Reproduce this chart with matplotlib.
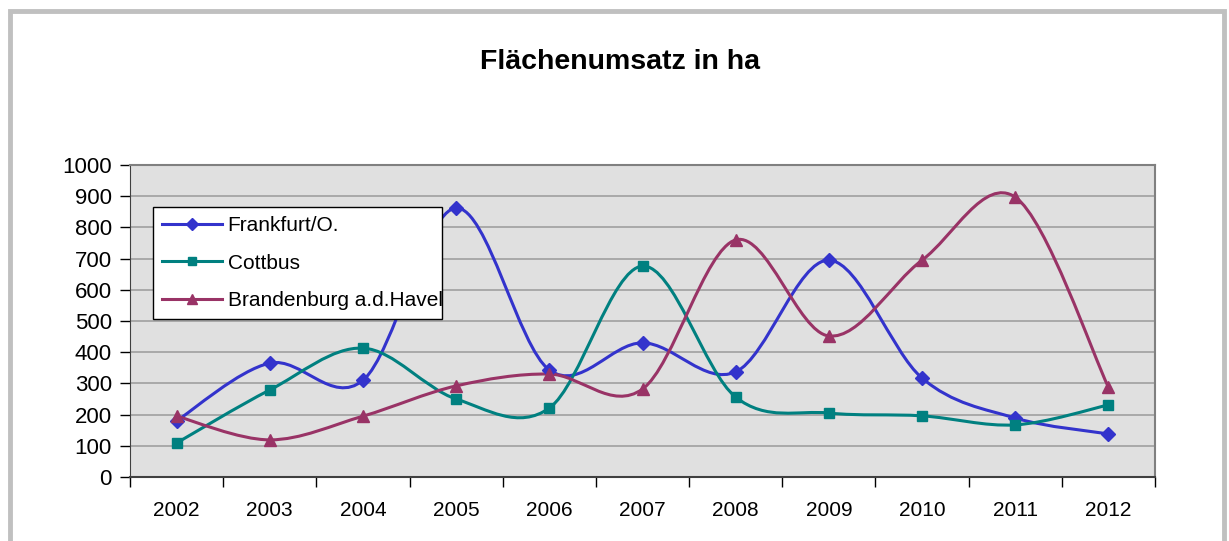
import matplotlib.pyplot as plt
import numpy as np
from matplotlib.lines import Line2D
from matplotlib.patches import PathPatch, Rectangle
from matplotlib.path import Path
from matplotlib.ticker import FixedLocator, NullFormatter

plt.rcParams["font.family"] = ["Liberation Sans", "DejaVu Sans"]

years = ["2002", "2003", "2004", "2005", "2006", "2007", "2008", "2009", "2010", "2011", "2012"]
frankfurt = [180, 365, 310, 862, 343, 430, 337, 695, 317, 189, 138]
cottbus = [109, 279, 413, 250, 221, 676, 256, 205, 196, 167, 231]
brandenburg = [195, 119, 195, 292, 330, 282, 760, 452, 695, 897, 288]

series = [
    ("Frankfurt/O.", frankfurt, "#3333CC", "D", 7),
    ("Cottbus", cottbus, "#008080", "s", 7),
    ("Brandenburg a.d.Havel", brandenburg, "#993366", "^", 8),
]


def smooth_path(xs, ys):
    # Excel-style smoothed line: cubic Bezier segments through the points
    pts = np.column_stack([xs, ys]).astype(float)
    ext = np.vstack([pts[0], pts, pts[-1]])
    verts = [pts[0]]
    codes = [Path.MOVETO]
    for i in range(len(pts) - 1):
        p0, p1, p2, p3 = ext[i], ext[i + 1], ext[i + 2], ext[i + 3]
        verts += [p1 + (p2 - p0) / 6, p2 - (p3 - p1) / 6, p2]
        codes += [Path.CURVE4] * 3
    return Path(verts, codes)


fig = plt.figure(figsize=(12.29, 5.41), dpi=100)
fig.patches.append(Rectangle((0.008, -0.05), 0.988, 1.03, transform=fig.transFigure,
                             facecolor="none", edgecolor="#C0C0C0", linewidth=3.5,
                             zorder=-1))

ax = fig.add_axes([0.1058, 0.1183, 0.834, 0.5767])
ax.set_facecolor("#E0E0E0")
x = np.arange(len(years))

handles = []
for name, vals, color, marker, ms in series:
    ax.add_patch(PathPatch(smooth_path(x, vals), facecolor="none", edgecolor=color,
                           linewidth=2.2, zorder=3))
    ax.plot(x, vals, linestyle="none", marker=marker, color=color, markersize=ms, zorder=4)
    handles.append(Line2D([], [], color=color, linewidth=2.2, marker=marker, markersize=ms - 1))

ax.set_xlim(-0.5, len(years) - 0.5)
ax.set_ylim(0, 1000)
ax.set_yticks(range(0, 1001, 100))
ax.yaxis.grid(True, color="#A0A0A0", linewidth=1.2)
ax.set_axisbelow(True)

ax.xaxis.set_major_locator(FixedLocator(np.arange(-0.5, len(years), 1.0)))
ax.xaxis.set_major_formatter(NullFormatter())
ax.xaxis.set_minor_locator(FixedLocator(x))
ax.set_xticklabels(years, minor=True)
ax.tick_params(axis="x", which="major", length=7, width=1, direction="out")
ax.tick_params(axis="x", which="minor", length=0, pad=17, labelsize=15)
ax.tick_params(axis="y", length=7, width=1, pad=6, labelsize=16)

for side in ["top", "right"]:
    ax.spines[side].set_color("#808080")
    ax.spines[side].set_linewidth(1.5)
ax.spines["left"].set_color("#404040")
ax.spines["bottom"].set_color("#404040")
ax.spines["bottom"].set_linewidth(1.5)

leg = ax.legend(handles, [s[0] for s in series], loc="upper left", mode="expand",
                bbox_to_anchor=(0.022, 0.5, 0.282, 0.366), borderaxespad=0, fontsize=15,
                frameon=True, fancybox=False, edgecolor="black", handlelength=2.9,
                labelspacing=0.88, borderpad=0.45, handletextpad=0.25)
leg.get_frame().set_linewidth(1.0)
leg.get_frame().set_facecolor("white")
leg.get_frame().set_alpha(1)

fig.text(0.5045, 0.885, "Flächenumsatz in ha", ha="center", va="center",
         fontsize=20.5, fontweight="bold")

fig.savefig("out.png", dpi=100)
